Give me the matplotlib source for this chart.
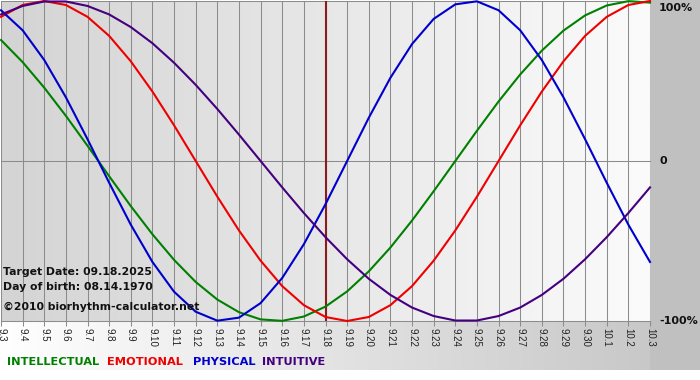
import matplotlib
matplotlib.use('Agg')
import matplotlib.pyplot as plt
import numpy as np
from matplotlib.colors import LinearSegmentedColormap
from matplotlib.patches import Rectangle

# ---------------- data ----------------
days = ['9.3', '9.4', '9.5', '9.6', '9.7', '9.8', '9.9', '9.10', '9.11', '9.12',
        '9.13', '9.14', '9.15', '9.16', '9.17', '9.18', '9.19', '9.20', '9.21',
        '9.22', '9.23', '9.24', '9.25', '9.26', '9.27', '9.28', '9.29', '9.30',
        '10.1', '10.2', '10.3']

physical = [0.942, 0.817, 0.631, 0.398, 0.136, -0.136, -0.398, -0.631, -0.817,
            -0.942, -0.998, -0.979, -0.888, -0.731, -0.520, -0.270, 0.000, 0.270,
            0.520, 0.731, 0.888, 0.979, 0.998, 0.942, 0.817, 0.631, 0.398, 0.136,
            -0.136, -0.398, -0.631]

emotional = [0.901, 0.975, 1.000, 0.975, 0.901, 0.782, 0.623, 0.434, 0.223,
             0.000, -0.223, -0.434, -0.623, -0.782, -0.901, -0.975, -1.000,
             -0.975, -0.901, -0.782, -0.623, -0.434, -0.223, 0.000, 0.223, 0.434,
             0.623, 0.782, 0.901, 0.975, 1.000]

intellectual = [0.756, 0.618, 0.458, 0.282, 0.095, -0.095, -0.282, -0.458,
                -0.618, -0.756, -0.866, -0.945, -0.990, -0.999, -0.972, -0.910,
                -0.815, -0.690, -0.541, -0.372, -0.189, 0.000, 0.189, 0.372,
                0.541, 0.690, 0.815, 0.910, 0.972, 0.999, 0.990]

intuitive = [0.916, 0.969, 0.997, 0.997, 0.969, 0.916, 0.837, 0.736, 0.614,
             0.476, 0.325, 0.165, 0.000, -0.165, -0.325, -0.476, -0.614, -0.736,
             -0.837, -0.916, -0.969, -0.997, -0.997, -0.969, -0.916, -0.837,
             -0.736, -0.614, -0.476, -0.325, -0.165]

target_day = '9.18'
info_lines = ['Target Date: 09.18.2025', 'Day of birth: 08.14.1970',
              '\u00a92010 biorhythm-calculator.net']
legend_names = ['INTELLECTUAL', 'EMOTIONAL', 'PHYSICAL', 'INTUITIVE']
y_ticks = [1, 0, -1]
y_labels = ['100%', '0', '-100%']

# ---------------- style ----------------
colors = {'INTELLECTUAL': '#008000', 'EMOTIONAL': '#ee0000',
          'PHYSICAL': '#0000cc', 'INTUITIVE': '#44007f'}
series = {'INTELLECTUAL': intellectual, 'EMOTIONAL': emotional,
          'PHYSICAL': physical, 'INTUITIVE': intuitive}

W, H = 700, 380
fig = plt.figure(figsize=(7, 3.8), dpi=100)
fig.patch.set_facecolor('white')

# background axes in pixel coordinates
bg = fig.add_axes([0, 0, 1, 1])
grad = np.linspace(0, 1, 256).reshape(1, -1)
band_cm = LinearSegmentedColormap.from_list('band', ['#ffffff', '#c4c4c4'])
bg.imshow(grad, cmap=band_cm, extent=(0, W, 370, 321), aspect='auto', zorder=0)
bg.add_patch(Rectangle((650, 0), 50, 370, facecolor='#c0c0c0', edgecolor='none', zorder=1))
bg.set_xlim(0, W)
bg.set_ylim(H, 0)
bg.axis('off')

# plot axes
L, R, T, B = 1, 650, 1, 321
ax = fig.add_axes([L / W, (H - B) / H, (R - L) / W, (B - T) / H])
ax.set_facecolor('none')
x = np.arange(len(days))
ax.set_xlim(0, len(days) - 1)
ax.set_ylim(-1, 1)
plot_cm = LinearSegmentedColormap.from_list('plot', ['#d4d4d4', '#fbfbfb'])
ax.imshow(grad, cmap=plot_cm, extent=(0, len(days) - 1, -1, 1), aspect='auto', zorder=0)

for i in x:
    ax.axvline(i, color='#8c8c8c', lw=0.75, zorder=1)
for yv in y_ticks:
    ax.axhline(yv, color='#8c8c8c', lw=0.75, zorder=1, clip_on=False)
ax.axvline(days.index(target_day), color='#8b1c1c', lw=1.5, zorder=2)

for name in legend_names:
    ax.plot(x, series[name], color=colors[name], lw=1.5, zorder=3,
            clip_on=False, solid_joinstyle='round')

for s in ax.spines.values():
    s.set_visible(False)

ax.set_xticks(x)
ax.set_xticklabels(days, rotation=270, fontsize=7, family='Liberation Sans',
                   color='#222222')
ax.tick_params(axis='x', length=3.5, width=0.75, color='#8c8c8c', pad=1.5)
ax.set_yticks([])

# right-hand labels
offsets = {'100%': -5, '0': 0, '-100%': 0}
for yv, lab in zip(y_ticks, y_labels):
    ax.annotate(lab, xy=(1, yv), xycoords=('axes fraction', 'data'),
                xytext=(6.5, offsets[lab]), textcoords='offset points',
                ha='left', va='center', fontsize=8, fontweight='bold',
                color='#111111', annotation_clip=False)

# info text (drawn on the plot axes, positioned in pixel coords)
for yy, line in zip([272, 287, 307], info_lines):
    ax.text(3, yy, line, transform=bg.transData, ha='left', va='center',
            fontsize=7.8, fontweight='bold', color='#111111', zorder=6,
            clip_on=False)

# legend
for xx, name in zip([7, 107, 193, 262], legend_names):
    bg.text(xx, 362, name, ha='left', va='center', fontsize=8.2,
            fontweight='bold', color=colors[name], zorder=5)

fig.savefig('out.png', dpi=100)
